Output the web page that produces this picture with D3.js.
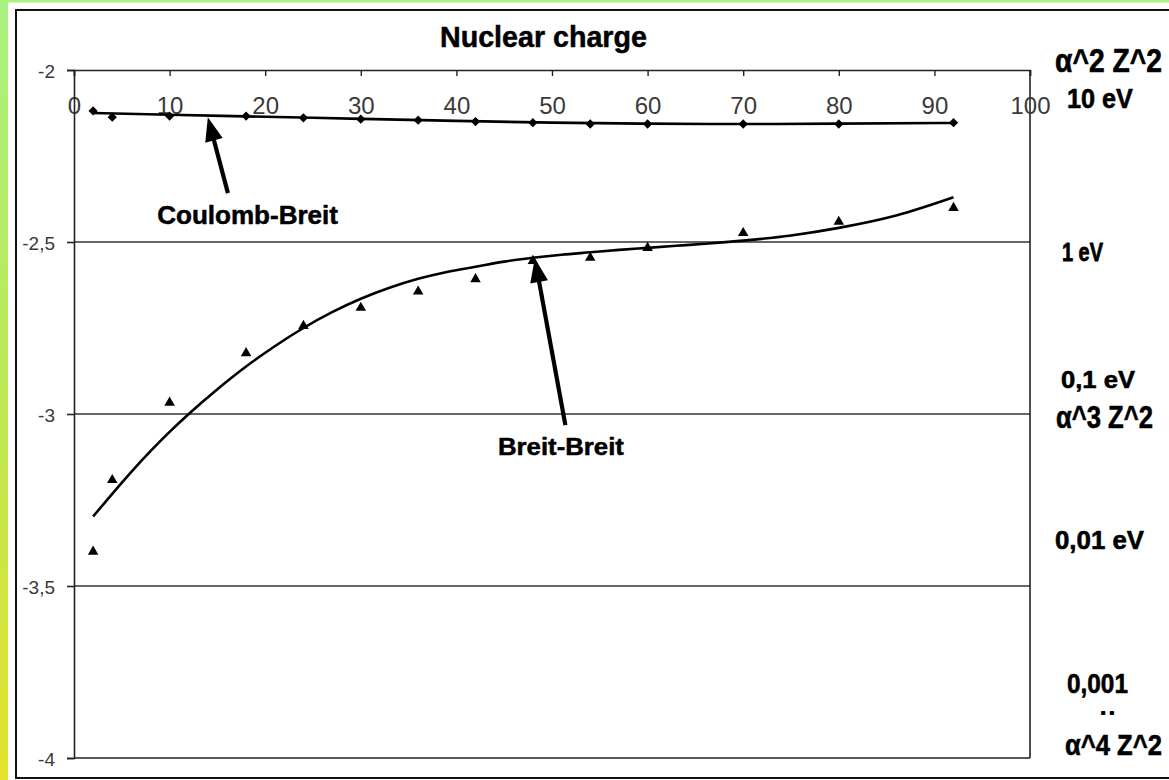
<!DOCTYPE html>
<html>
<head>
<meta charset="utf-8">
<script src="https://cdn.jsdelivr.net/npm/d3@7"></script>
<style>
  html, body { margin: 0; padding: 0; background: #fff; }
  svg { display: block; }
  text { font-family: "Liberation Sans", Arial, sans-serif; }
</style>
</head>
<body>
<script>
// ---- data ----
const nuclearCharge = [2, 4, 10, 18, 24, 30, 36, 42, 48, 54, 60, 70, 80, 92];
const coulombBreit  = [-2.119, -2.137, -2.134, -2.134, -2.139, -2.143, -2.146, -2.150, -2.153, -2.157, -2.157, -2.157, -2.157, -2.153];
const breitBreit    = [-3.400, -3.192, -2.967, -2.823, -2.744, -2.691, -2.644, -2.608, -2.555, -2.546, -2.517, -2.474, -2.441, -2.401];

// trend lines
const cbTrendZ   = [2, 10, 20, 30, 40, 50, 60, 70, 80, 92];
const cbTrendVal = [-2.125, -2.130, -2.136, -2.142, -2.148, -2.153, -2.156, -2.157, -2.156, -2.154];
const bbTrendZ   = [2, 4, 6, 8, 10, 12, 15, 18, 21, 24, 27, 30, 33, 36, 39, 42, 45, 48, 51, 54, 57, 60, 63, 66, 70, 75, 80, 86, 92];
const bbTrendVal = [-3.298, -3.232, -3.168, -3.108, -3.052, -3.000, -2.928, -2.862, -2.803, -2.750, -2.704, -2.665,
                    -2.633, -2.607, -2.587, -2.572, -2.557, -2.546, -2.537, -2.530, -2.523, -2.517, -2.511, -2.505,
                    -2.496, -2.481, -2.459, -2.423, -2.370];

const xTicks = [0, 10, 20, 30, 40, 50, 60, 70, 80, 90, 100];
const yTicks = [-2, -2.5, -3, -3.5, -4];
const yTickLabels = ["-2", "-2,5", "-3", "-3,5", "-4"];
const gridValues = [-2.5, -3, -3.5];

const title = "Nuclear charge";
const seriesLabels = ["Coulomb-Breit", "Breit-Breit"];
const rightLabels = ["\u03b1^2 Z^2", "10 eV", "1 eV", "0,1 eV", "\u03b1^3 Z^2", "0,01 eV", "\u03b1^4 Z^2", "0,001", ". ."];

// ---- layout ----
const W = 1169, H = 780;
const svg = d3.select("body").append("svg").attr("width", W).attr("height", H);

const defs = svg.append("defs");
const grad = defs.append("linearGradient").attr("id", "side").attr("x1", 0).attr("y1", 0).attr("x2", 0).attr("y2", 1);
grad.append("stop").attr("offset", "0%").attr("stop-color", "#a8f27e");
grad.append("stop").attr("offset", "55%").attr("stop-color", "#bfe851");
grad.append("stop").attr("offset", "100%").attr("stop-color", "#e4e22e");

// frame decoration
svg.append("rect").attr("x", 0).attr("y", 0).attr("width", W).attr("height", 2.5).attr("fill", "#a8f27e");
svg.append("rect").attr("x", 0).attr("y", 0).attr("width", 8).attr("height", H).attr("fill", "url(#side)");
svg.append("rect").attr("x", 16).attr("y", 10).attr("width", W + 10).attr("height", 768)
  .attr("fill", "none").attr("stroke", "#111").attr("stroke-width", 2);

const x = d3.scaleLinear().domain([0, 100]).range([74, 1030]);
const y = d3.scaleLinear().domain([-2, -4]).range([70, 758]);

// gridlines
svg.append("g").selectAll("line").data(gridValues).join("line")
  .attr("x1", x(0)).attr("x2", x(100))
  .attr("y1", d => y(d)).attr("y2", d => y(d))
  .attr("stroke", "#333").attr("stroke-width", 1.6);

// plot border (right & bottom)
svg.append("line").attr("x1", x(100)).attr("x2", x(100)).attr("y1", y(-2)).attr("y2", y(-4))
  .attr("stroke", "#222").attr("stroke-width", 1.6);
svg.append("line").attr("x1", x(0)).attr("x2", x(100)).attr("y1", y(-4)).attr("y2", y(-4))
  .attr("stroke", "#222").attr("stroke-width", 1.6);

// top x axis (ticks point down into plot, labels below)
const xAxis = svg.append("g").attr("transform", `translate(0,${y(-2)})`)
  .call(d3.axisBottom(x).tickValues(xTicks).tickSize(6).tickFormat(d3.format("d")));
xAxis.select(".domain").attr("stroke", "#222").attr("stroke-width", 1.6);
xAxis.selectAll(".tick line").attr("stroke", "#222").attr("stroke-width", 1.4);
xAxis.selectAll(".tick text").attr("y", 44).attr("dy", 0)
  .attr("font-size", 24).attr("fill", "#3a3a3a").style("font-family", "'Liberation Sans', Arial, sans-serif");

// left y axis
const yAxis = svg.append("g").attr("transform", `translate(${x(0)},0)`)
  .call(d3.axisLeft(y).tickValues(yTicks).tickSize(7).tickPadding(12)
    .tickFormat((d, i) => yTickLabels[i]));
yAxis.select(".domain").attr("stroke", "#222").attr("stroke-width", 1.6);
yAxis.selectAll(".tick line").attr("stroke", "#222").attr("stroke-width", 1.6);
yAxis.selectAll(".tick text").attr("font-size", 19).attr("fill", "#3a3a3a").attr("dy", "0.4em")
  .style("font-family", "'Liberation Sans', Arial, sans-serif");

// trend lines
const lineGen = d3.line().x(d => x(d[0])).y(d => y(d[1])).curve(d3.curveMonotoneX);
svg.append("path").datum(cbTrendZ.map((z, i) => [z, cbTrendVal[i]]))
  .attr("d", lineGen).attr("fill", "none").attr("stroke", "#000").attr("stroke-width", 2.6);
svg.append("path").datum(bbTrendZ.map((z, i) => [z, bbTrendVal[i]]))
  .attr("d", lineGen).attr("fill", "none").attr("stroke", "#000").attr("stroke-width", 2.6);

// markers
svg.append("g").selectAll("path").data(nuclearCharge.map((z, i) => [z, coulombBreit[i]])).join("path")
  .attr("transform", d => `translate(${x(d[0])},${y(d[1])})`)
  .attr("d", d3.symbol(d3.symbolDiamond2, 55)).attr("fill", "#000");
svg.append("g").selectAll("path").data(nuclearCharge.map((z, i) => [z, breitBreit[i]])).join("path")
  .attr("transform", d => `translate(${x(d[0])},${y(d[1])})`)
  .attr("d", d3.symbol(d3.symbolTriangle, 48)).attr("fill", "#000");

// arrows (tail -> tip, in data coordinates)
const arrows = [
  { tail: [16.1, -2.358], tip: [14.0, -2.137] },
  { tail: [51.4, -3.032], tip: [48.2, -2.547] }
];
arrows.forEach(a => {
  const x0 = x(a.tail[0]), y0 = y(a.tail[1]), x1 = x(a.tip[0]), y1 = y(a.tip[1]);
  const dx = x1 - x0, dy = y1 - y0, len = Math.hypot(dx, dy);
  const ux = dx / len, uy = dy / len, px = -uy, py = ux;
  const hl = 24, hw = 9;
  const bx = x1 - ux * hl, by = y1 - uy * hl;
  svg.append("line").attr("x1", x0).attr("y1", y0).attr("x2", bx + ux * 4).attr("y2", by + uy * 4)
    .attr("stroke", "#000").attr("stroke-width", 4.2);
  svg.append("path")
    .attr("d", `M${x1},${y1}L${bx + px * hw},${by + py * hw}L${bx - px * hw},${by - py * hw}Z`)
    .attr("fill", "#000");
});

// helper: bold condensed text, horizontally scaled to a target width
function condensed(str, px, py, fs, width, stroke) {
  const g = svg.append("g");
  const t = g.append("text").attr("x", 0).attr("y", 0)
    .attr("font-size", fs).attr("font-weight", "bold").attr("fill", "#000").text(str);
  if (stroke) t.attr("stroke", "#000").attr("stroke-width", stroke).attr("stroke-linejoin", "round");
  const natural = t.node().getComputedTextLength() || width;
  g.attr("transform", `translate(${px},${py}) scale(${width / natural},1)`);
  return t;
}

// series labels
condensed(seriesLabels[0], x(8.7), y(-2.448), 25, 181, 0.5);
condensed(seriesLabels[1], x(44.35), y(-3.119), 24, 126, 0.5);

// title
condensed(title, 440, 47, 29, 207, 0.5);

// right-side labels
const rightPos = [
  { x: 1055, y: 72, fs: 33, tl: 107, st: 0.6 },
  { x: 1067, y: 108, fs: 27, tl: 66, st: 0.6 },
  { x: 1062, y: 261, fs: 26, tl: 41, st: 0.8 },
  { x: 1061, y: 388, fs: 24, tl: 74, st: 0.6 },
  { x: 1056, y: 428, fs: 31, tl: 97, st: 0.6 },
  { x: 1055, y: 549, fs: 25, tl: 89, st: 0.6 },
  { x: 1065, y: 755, fs: 30, tl: 97, st: 0.6 },
  { x: 1067, y: 693, fs: 28, tl: 61, st: 0.6 },
  { x: 1101, y: 714, fs: 14, tl: 13, st: 1.8 }
];
rightLabels.forEach((s, i) => {
  const p = rightPos[i];
  condensed(s, p.x, p.y, p.fs, p.tl, p.st);
});
</script>
</body>
</html>
